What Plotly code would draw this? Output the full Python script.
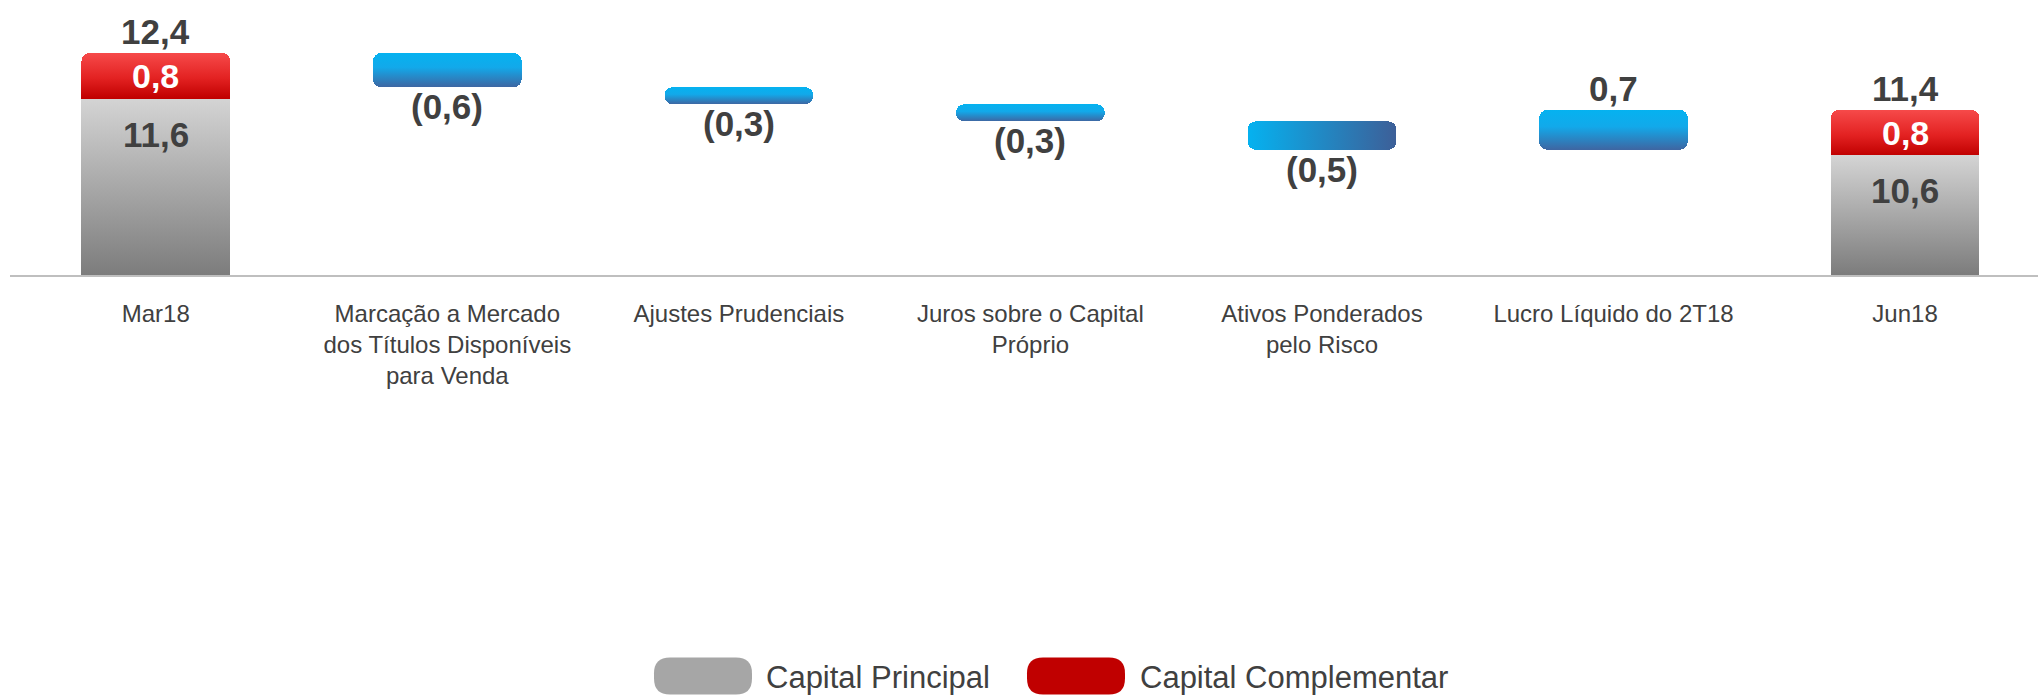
import plotly.graph_objects as go

# ---------------- data ----------------
categories = ["Mar18",
              "Marcação a Mercado dos Títulos Disponíveis para Venda",
              "Ajustes Prudenciais",
              "Juros sobre o Capital Próprio",
              "Ativos Ponderados pelo Risco",
              "Lucro Líquido do 2T18",
              "Jun18"]
tick_labels = ["Mar18",
               "Marcação a Mercado<br>dos Títulos Disponíveis<br>para Venda",
               "Ajustes Prudenciais",
               "Juros sobre o Capital<br>Próprio",
               "Ativos Ponderados<br>pelo Risco",
               "Lucro Líquido do 2T18",
               "Jun18"]
total_categories = ["Mar18", "Jun18"]
capital_principal = [11.6, 10.6]
capital_complementar = [0.8, 0.8]
change_categories = categories[1:6]
change_values = [-0.6, -0.3, -0.3, -0.5, 0.7]
series_names = ["Capital Principal", "Capital Complementar"]

# ---------------- derived ----------------
totals = [p + c for p, c in zip(capital_principal, capital_complementar)]
bases = []
running = totals[0]
for v in change_values:
    bases.append(running)
    running += v


def fmt(v):
    s = f"{abs(v):.1f}".replace(".", ",")
    return f"({s})" if v < 0 else s


FONT = "Arial, 'Liberation Sans', sans-serif"
DARK = "#404040"
BAR_W = 0.51

fig = go.Figure()
fig.add_trace(go.Bar(x=total_categories, y=capital_principal, name=series_names[0],
                     width=BAR_W, marker=dict(color="#a6a6a6", line_width=0),
                     showlegend=False, hoverinfo="skip"))
fig.add_trace(go.Bar(x=total_categories, y=capital_complementar, name=series_names[1],
                     width=BAR_W, marker=dict(color="#d91c1c", line_width=0),
                     showlegend=False, hoverinfo="skip"))
fig.add_trace(go.Bar(x=change_categories, y=change_values, base=bases, name="Variação",
                     width=BAR_W, marker=dict(color="#1e90d8", line_width=0),
                     showlegend=False, hoverinfo="skip"))

annotations = []
bold = dict(family=FONT, size=35, color=DARK, weight="bold")
for cat, p, c, t in zip(total_categories, capital_principal, capital_complementar, totals):
    annotations.append(dict(x=cat, y=t, text=fmt(t), showarrow=False, yanchor="bottom",
                            yshift=0, font=bold))
    annotations.append(dict(x=cat, y=p + c / 2, text=fmt(c), showarrow=False, yanchor="middle",
                            font=dict(family=FONT, size=34, color="white", weight="bold")))
    annotations.append(dict(x=cat, y=p, text=fmt(p), showarrow=False, yanchor="top",
                            yshift=-14, font=bold))
for cat, b, v in zip(change_categories, bases, change_values):
    annotations.append(dict(x=cat, y=b + v, text=fmt(v), showarrow=False,
                            yanchor="top" if v < 0 else "bottom", yshift=2 if v < 0 else 0,
                            font=bold))

# ---------------- custom legend (pills) ----------------
ML, PW, PH = 10, 2028, 275  # plot area left margin, width, height (pixels)


def px2paper(px, py):
    return (px - ML) / PW, (PH - py) / PH


def pill(w, h, r):
    a, b = w / 2, h / 2
    return (f"M{-a + r},{-b} L{a - r},{-b} Q{a},{-b} {a},{-b + r} L{a},{b - r} Q{a},{b} {a - r},{b} "
            f"L{-a + r},{b} Q{-a},{b} {-a},{b - r} L{-a},{-b + r} Q{-a},{-b} {-a + r},{-b} Z")


shapes = []
legend_items = [(series_names[0], "#a6a6a6", 703, 764), (series_names[1], "#c00000", 1076, 1138)]
for name, col, cx, tx in legend_items:
    ax, ay = px2paper(cx, 676)
    shapes.append(dict(type="path", xref="paper", yref="paper", xsizemode="pixel",
                       ysizemode="pixel", xanchor=ax, yanchor=ay, path=pill(98, 37, 16),
                       fillcolor=col, line=dict(width=0)))
    lx, ly = px2paper(tx, 677)
    annotations.append(dict(xref="paper", yref="paper", x=lx, y=ly, xanchor="left",
                            yanchor="middle", text=name, showarrow=False,
                            font=dict(family=FONT, size=31, color=DARK)))

fig.update_layout(
    width=2038, height=696, autosize=False,
    margin=dict(l=ML, r=0, t=0, b=696 - PH, pad=0),
    paper_bgcolor="white", plot_bgcolor="white",
    barmode="stack", barcornerradius=8,
    font=dict(family=FONT, color=DARK),
    xaxis=dict(type="category", categoryorder="array", categoryarray=categories,
               tickvals=categories, ticktext=tick_labels, range=[-0.5, 6.456],
               showline=True, linecolor="#bfbfbf", linewidth=2, showgrid=False,
               zeroline=False, ticks="", ticklabelstandoff=16,
               tickfont=dict(family=FONT, size=24, color=DARK)),
    yaxis=dict(visible=False, range=[8.5, 13.331], showgrid=False, zeroline=False),
    annotations=annotations, shapes=shapes,
    showlegend=False,
)

post_js = r"""
(function(){
document.documentElement.style.margin='0';
document.body.style.margin='0';
document.body.style.padding='0';
document.body.style.overflow='hidden';
var gd = document.getElementById('{plot_id}');
var ns = 'http://www.w3.org/2000/svg';
var pal = [
  [[0,'#d4d4d4'],[1,'#7c7c7c']],
  [[0,'#f64a4a'],[0.55,'#e32222'],[1,'#c00000']],
  [[0,'#05b2f0'],[0.42,'#12a9ea'],[1,'#3e66a2']]
];
var horiz = [[0,'#05b2f0'],[1,'#3d5f98']];
function grad(defs,id,x1,y1,x2,y2,stops){
  var old = document.getElementById(id); if(old) old.parentNode.removeChild(old);
  var g = document.createElementNS(ns,'linearGradient');
  g.setAttribute('id',id); g.setAttribute('gradientUnits','userSpaceOnUse');
  g.setAttribute('x1',x1); g.setAttribute('y1',y1); g.setAttribute('x2',x2); g.setAttribute('y2',y2);
  stops.forEach(function(s){var st=document.createElementNS(ns,'stop');
    st.setAttribute('offset',s[0]); st.setAttribute('stop-color',s[1]); g.appendChild(st);});
  defs.appendChild(g);
}
function apply(){
  try{
    var svg = gd.querySelector('svg.main-svg'); if(!svg) return;
    var defs = svg.querySelector('defs'); if(!defs) return;
    var h = gd._fullLayout._size.h;
    var traces = gd.querySelectorAll('.barlayer .trace');
    traces.forEach(function(tr,ti){
      tr.querySelectorAll('path').forEach(function(p,pi){
        var bb = p.getBBox();
        var y1 = Math.max(bb.y,0), y2 = Math.min(bb.y+bb.height,h);
        var id = 'bargrad_'+ti+'_'+pi;
        if(ti===2 && pi===3){ grad(defs,id,bb.x,0,bb.x+bb.width,0,horiz); }
        else { grad(defs,id,0,y1,0,y2,pal[Math.min(ti,2)]); }
        p.style.fill = 'url(#'+id+')';
      });
    });
  }catch(e){}
}
apply();
setTimeout(apply, 50);
if(gd.on) gd.on('plotly_afterplot', apply);
})();
"""

fig.write_html("out.html", config={"displayModeBar": False}, post_script=post_js)
